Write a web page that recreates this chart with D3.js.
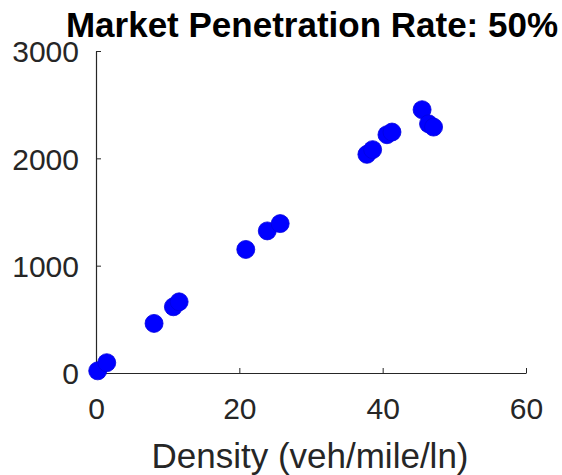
<!DOCTYPE html>
<html>
<head>
<meta charset="utf-8">
<script src="https://cdn.jsdelivr.net/npm/d3@7"></script>
<style>
  html, body { margin: 0; padding: 0; background: #fff; }
  svg { display: block; }
  text { font-family: "Liberation Sans", Arial, Helvetica, sans-serif; }
</style>
</head>
<body>
<svg id="chart" width="562" height="475"></svg>
<script>
// Flow vs. density observations at 50% market penetration
const density = [0.24, 1.5, 8.1, 10.8, 11.6, 20.9, 23.9, 25.7, 37.8, 38.6, 40.6, 41.3, 45.5, 46.4, 47.1];
const flow    = [20, 96, 462, 617, 663, 1151, 1324, 1392, 2037, 2081, 2220, 2245, 2453, 2322, 2291];

const xTicks = [0, 20, 40, 60];
const yTicks = [0, 1000, 2000, 3000];

const titleText = "Market Penetration Rate: 50%";
const xLabel = "Density (veh/mile/ln)";

const margin = { left: 96, right: 36, top: 51, bottom: 102 };
const W = 562, H = 475;
const axisColor = "#262626";

const svg = d3.select("#chart");

const x = d3.scaleLinear().domain([0, 60]).range([margin.left, W - margin.right]);
const y = d3.scaleLinear().domain([0, 3000]).range([H - margin.bottom, margin.top]);

// Bottom axis (ticks pointing into the plot area)
const gx = svg.append("g")
  .attr("transform", `translate(0,${y(0)})`)
  .call(d3.axisBottom(x).tickValues(xTicks).tickFormat(d3.format("d"))
    .tickSizeInner(-5).tickSizeOuter(0).tickPadding(25));

// Left axis
const gy = svg.append("g")
  .attr("transform", `translate(${x(0)},0)`)
  .call(d3.axisLeft(y).tickValues(yTicks).tickFormat(d3.format("d"))
    .tickSizeInner(-5).tickSizeOuter(0).tickPadding(17));

[gx, gy].forEach(g => {
  g.select(".domain").attr("stroke", axisColor).attr("stroke-width", 1.2);
  g.selectAll(".tick line").attr("stroke", axisColor).attr("stroke-width", 1);
  g.selectAll(".tick text")
    .attr("fill", axisColor)
    .style("font-size", "30px")
    .style("font-family", "'Liberation Sans', Arial, Helvetica, sans-serif");
});
gy.selectAll(".tick text").attr("dy", "0.36em");

// Data points
svg.append("g")
  .selectAll("circle")
  .data(density.map((d, i) => ({ d, f: flow[i] })))
  .join("circle")
  .attr("cx", p => x(p.d))
  .attr("cy", p => y(p.f))
  .attr("r", 9)
  .attr("fill", "#0000ff")
  .attr("stroke", "#0000e0")
  .attr("stroke-width", 0.8);

// Title
svg.append("text")
  .attr("x", 312)
  .attr("y", 37)
  .attr("text-anchor", "middle")
  .attr("font-weight", "bold")
  .attr("font-size", "35px")
  .attr("fill", "#000")
  .text(titleText);

// X-axis label
svg.append("text")
  .attr("x", 310)
  .attr("y", 468)
  .attr("text-anchor", "middle")
  .attr("font-size", "35px")
  .attr("fill", axisColor)
  .text(xLabel);
</script>
</body>
</html>
